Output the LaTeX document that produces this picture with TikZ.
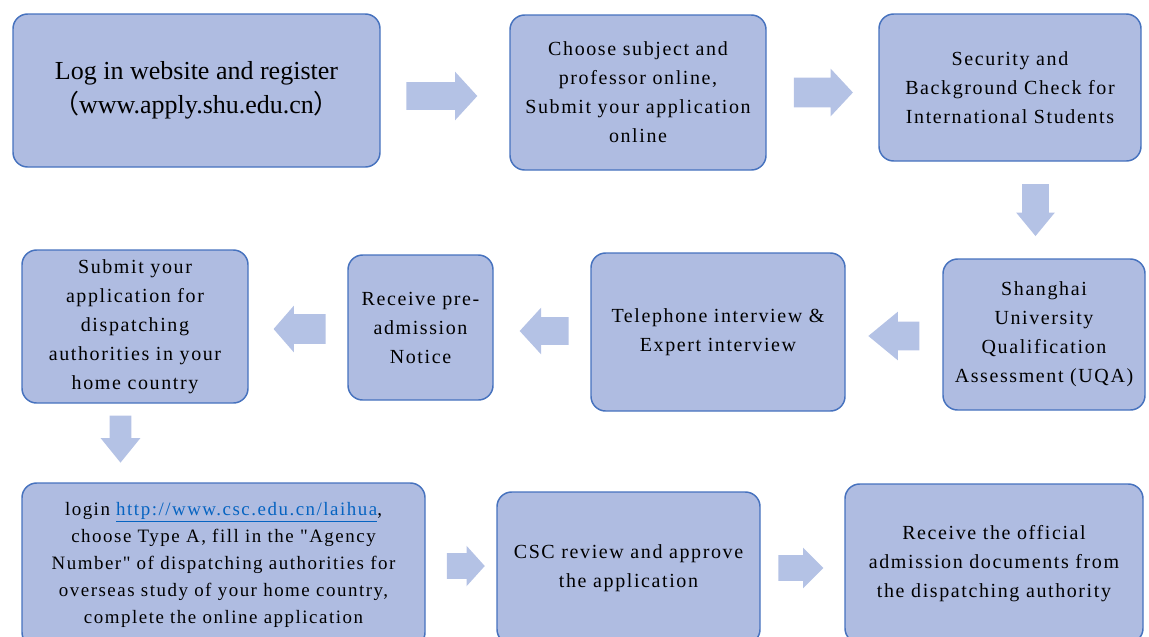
\documentclass[tikz,border=0pt]{standalone}
\usepackage{fontspec}
\setmainfont{Liberation Serif}
\newfontfamily\spaced{Liberation Serif}[LetterSpace=8]
\newfontfamily\cjk{Noto Sans CJK SC}
\usetikzlibrary{shapes.arrows}
\definecolor{shublue}{HTML}{AFBCE1}
\definecolor{shuline}{HTML}{4672BE}
\definecolor{shuarrow}{HTML}{B4C2E5}
\definecolor{linkblue}{HTML}{0563C1}
\tikzstyle{sblock} = [rectangle, draw=shuline, line width=1.1pt, fill=shublue,
align=center, rounded corners=11pt, inner sep=0pt]
\tikzstyle{barrow} = [single arrow, draw=none, fill=shuarrow,
single arrow head indent=0pt, outer sep=0pt]

\begin{document}
\begin{tikzpicture}[x=0.75pt, y=-0.75pt]
        \tikzstyle{every node}=[font=\spaced\fontsize{15}{21.75}\selectfont]
        \useasboundingbox (0,0) rectangle (1149,636);
        % first row
        \node (1) [sblock, minimum width=275.25pt, minimum height=114.75pt,
          font=\rmfamily\fontsize{19.5}{25.5}\selectfont] at (196.5,90.5)
          {Log in website and register\\{\cjk （}www.apply.shu.edu.cn{\cjk ）}};
        \node (2) [sblock, minimum width=192pt, minimum height=116.25pt] at (638,92.5)
          {Choose subject and\\professor online,\\Submit your application\\online};
        \node (3) [sblock, minimum width=196.5pt, minimum height=110.25pt] at (1010,87.5)
          {Security and\\Background Check for\\International Students};
        % second row
        \node (4) [sblock, minimum width=151.5pt, minimum height=113.25pt] at (1044,334.5)
          {Shanghai\\University\\Qualification\\Assessment (UQA)};
        \node (5) [sblock, minimum width=190.5pt, minimum height=118.5pt] at (718,332)
          {Telephone interview \&\\Expert interview};
        \node (6) [sblock, minimum width=108.75pt, minimum height=108.75pt] at (420.5,327.5)
          {Receive pre-\\admission\\Notice};
        \node (7) [sblock, minimum width=169.5pt, minimum height=114.75pt] at (135,326.5)
          {Submit your\\application for\\dispatching\\authorities in your\\home country};
        % third row (runs past the lower edge)
        \node (8) [sblock, minimum width=302.25pt, minimum height=123pt,
          font=\spaced\fontsize{14.2}{20.3}\selectfont] at (223.5,565)
          {login \textcolor{linkblue}{\underline{http://www.csc.edu.cn/laihua}},\\
           choose Type A, fill in the "Agency\\Number" of dispatching authorities for\\
           overseas study of your home country,\\complete the online application};
        \node (9) [sblock, minimum width=197.25pt, minimum height=114pt] at (628.5,568)
          {CSC review and approve\\the application};
        \node (10) [sblock, minimum width=223.5pt, minimum height=119.25pt] at (994,563.5)
          {Receive the official\\admission documents from\\the dispatching authority};
        % block arrows
        \node (a1) [barrow, minimum height=53.25pt, inner sep=10.125pt,
          single arrow head extend=7.875pt, single arrow tip angle=95] at (435.5,96) {};
        \node (a2) [barrow, minimum height=44.25pt, inner sep=10.875pt,
          single arrow head extend=6.75pt, single arrow tip angle=94] at (816.5,92.5) {};
        \node (a3) [barrow, minimum height=39pt, inner sep=9.75pt, shape border rotate=270,
          single arrow head extend=4.5pt, single arrow tip angle=79] at (1035.5,202) {};
        \node (a4) [barrow, minimum height=38.25pt, inner sep=10.5pt, shape border rotate=180,
          single arrow head extend=7.5pt, single arrow tip angle=79] at (902.5,336) {};
        \node (a5) [barrow, minimum height=36.75pt, inner sep=10.125pt, shape border rotate=180,
          single arrow head extend=7.125pt, single arrow tip angle=95] at (550.5,331) {};
        \node (a6) [barrow, minimum height=39pt, inner sep=10.875pt, shape border rotate=180,
          single arrow head extend=6.375pt, single arrow tip angle=98] at (306,329) {};
        \node (a7) [barrow, minimum height=35.25pt, inner sep=7.875pt, shape border rotate=270,
          single arrow head extend=6.75pt, single arrow tip angle=78] at (120.5,432.5) {};
        \node (a8) [barrow, minimum height=28.5pt, inner sep=9.375pt,
          single arrow head extend=5.625pt, single arrow tip angle=96] at (460,566) {};
        \node (a9) [barrow, minimum height=33.75pt, inner sep=9.375pt,
          single arrow head extend=5.625pt, single arrow tip angle=90] at (794.5,568) {};
\end{tikzpicture}
\end{document}
